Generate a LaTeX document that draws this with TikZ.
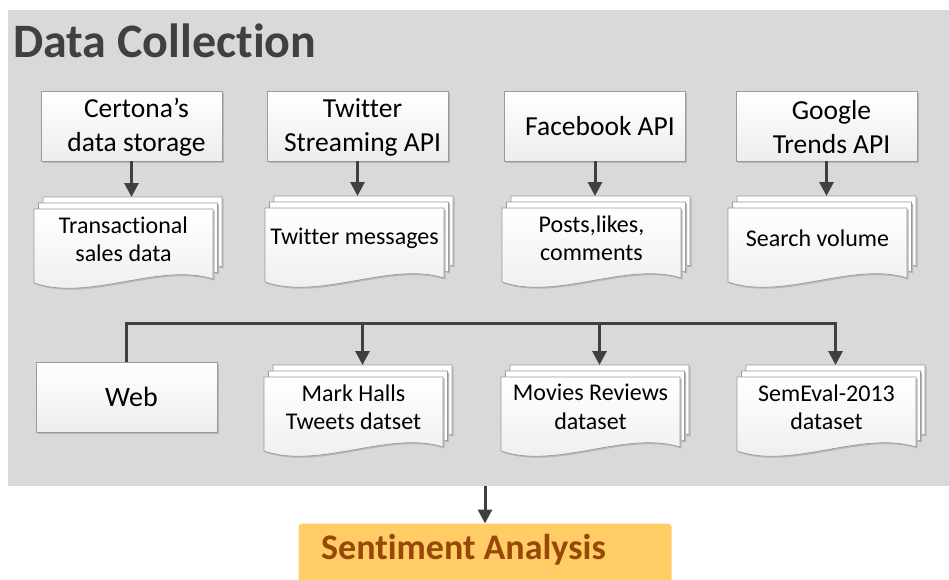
\documentclass[tikz,border=0pt]{standalone}
\usepackage{fontspec}
\setmainfont{Carlito}[Ligatures=NoCommon]
\usetikzlibrary{arrows.meta,calc}
\definecolor{bggray}{HTML}{D9D9D9}
\definecolor{boxborder}{HTML}{9A9A9A}
\definecolor{boxbottom}{HTML}{EDEDED}
\definecolor{arrowgray}{HTML}{404040}
\definecolor{titlegray}{HTML}{404040}
\definecolor{safill}{HTML}{FFCC66}
\definecolor{satext}{HTML}{974806}
\definecolor{shadowgray}{HTML}{B8B8B8}
\tikzset{
  srcbox/.style={draw=boxborder, line width=0.8pt, top color=white, bottom color=boxbottom,
    minimum width=181pt, minimum height=70pt, inner sep=0pt},
  boxtext/.style={align=center, font=\fontsize{27.5}{34}\selectfont, inner sep=0pt},
  doctext/.style={align=center, font=\fontsize{24}{28.5}\selectfont, inner sep=0pt},
  docback/.style={draw=boxborder, line width=0.7pt, fill=white},
  docfront/.style={draw=boxborder, line width=0.7pt, top color=white, bottom color=boxbottom},
  docshadow/.style={fill=shadowgray, draw=none},
  arr/.style={draw=arrowgray, line width=3pt, -{Triangle[width=14pt,length=14pt]}},
}
% page outline with top-left corner (#1,#2)
\newcommand{\pagepath}[2]{(#1,#2) -- (#1+179,#2) -- (#1+179,#2+70) .. controls (#1+125,#2+53) and (#1+55,#2+93) .. (#1,#2+74) -- cycle}
% multi-document: #1 name, #2 x of front page, #3 y of front page top, #4 text
\newcommand{\mdoc}[4]{%
  \begin{scope}[shift={(#2,#3)}]
    \path[docshadow] \pagepath{10.5}{-10.5};
    \path[docback] \pagepath{9}{-12};
    \path[docshadow] \pagepath{6}{-4.5};
    \path[docback] \pagepath{4.5}{-6};
    \path[docshadow] \pagepath{1.5}{1.5};
    \path[docfront] \pagepath{0}{0};
    \node[doctext] (#1) at (89.5,30) {#4};
    \coordinate (#1top) at (98.5,-12);
  \end{scope}}
\begin{document}
\begin{tikzpicture}[x=1pt,y=-1pt]
\useasboundingbox (0,0) rectangle (949,579);
\clip (0,0) rectangle (949,579);
% background panel
\node[fill=bggray, minimum width=941pt, minimum height=476pt, inner sep=0pt] (bg) at (478.5,248) {};
\node[anchor=base west, inner sep=0pt, text=titlegray, font=\fontsize{48}{52}\bfseries\selectfont] (title) at (13,57.5) {Data Collection};
% source boxes
\foreach \n/\cx in {b1/131.5, b2/357.5, b3/595, b4/826.5}{
  \fill[shadowgray] (\cx-89,93) rectangle (\cx+92,163);
  \node[srcbox] (\n) at (\cx,126) {};
}
\node[boxtext] (t1) at ($(b1.center)+(5,1)$) {Certona’s\\data storage};
\node[boxtext] (t2) at ($(b2.center)+(5,1)$) {Twitter\\Streaming API};
\node[boxtext] (t3) at ($(b3.center)+(5,0)$) {Facebook API};
\node[boxtext] (t4) at ($(b4.center)+(5,1)$) {Google\\Trends API};
% documents row 1
\mdoc{d1}{34}{209}{Transactional\\sales data}
\mdoc{d2}{265}{208}{Twitter messages}
\mdoc{d3}{502}{208}{Posts,likes,\\comments}
\mdoc{d4}{728}{208}{Search volume}
% arrows row 1
\draw[arr] (b1.south) -- (b1.south |- d1top);
\draw[arr] (b2.south) -- (b2.south |- d2top);
\draw[arr] (b3.south) -- (b3.south |- d3top);
\draw[arr] (b4.south) -- (b4.south |- d4top);
% row 2
\fill[shadowgray] (38,364) rectangle (219,434);
\node[srcbox] (web) at (126.5,397) {};
\node[boxtext, font=\fontsize{28}{33}\selectfont] (webt) at ($(web.center)+(5,0)$) {Web};
\mdoc{d5}{264}{377}{Mark Halls\\Tweets datset}
\mdoc{d6}{501}{377}{Movies Reviews\\dataset}
\mdoc{d7}{737}{377}{SemEval-2013\\dataset}
\coordinate (bus) at (126.5,323);
\draw[arr, line join=miter] (web.north) -- (bus) -| (d7top);
\draw[arr] (d5top |- bus) -- (d5top);
\draw[arr] (d6top |- bus) -- (d6top);
% sentiment analysis
\node[fill=safill, rounded corners=3pt, minimum width=373pt, minimum height=60pt, inner sep=0pt, anchor=north] (sa) at (485,523.5) {};
\node[text=satext, inner sep=0pt, font=\fontsize{36}{40}\bfseries\selectfont] (sat) at (463.5,550) {Sentiment Analysis};
\draw[arr] (bg.south -| sa.north) -- (sa.north);
\end{tikzpicture}
\end{document}
